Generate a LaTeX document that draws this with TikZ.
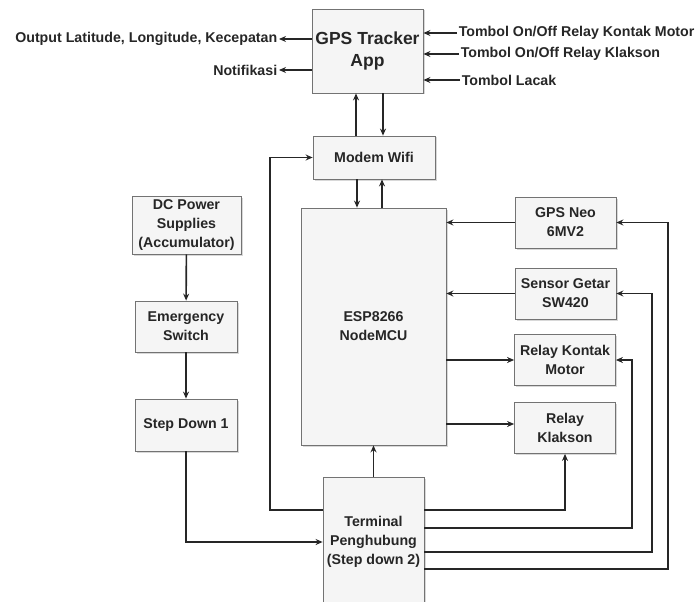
\documentclass[tikz,border=0pt]{standalone}
\usepackage{fontspec}
\setmainfont{Liberation Sans}
\usetikzlibrary{arrows.meta}
\usetikzlibrary{shadows}

\begin{document}
\begin{tikzpicture}[x=1pt, y=-1pt, line width=1.6pt]
    \tikzset{
        every node/.style={font=\fontsize{14.2}{19}\selectfont\bfseries, text=black!85},
        block/.style={draw=black!55, line width=0.8pt, fill=black!4, align=center, inner sep=1pt,
            drop shadow={shadow xshift=1.5pt, shadow yshift=-1.5pt, fill=black!30, opacity=0.5}},
        link/.style={-{Stealth[length=7pt, width=6pt]}, black!85}
    }
    \useasboundingbox (0,0) rectangle (697,602);
    \clip (0,0) rectangle (697,602);

    % draw app and modem
    \node[block, minimum width=111, minimum height=84, font=\fontsize{17.5}{22}\selectfont\bfseries] (app) at (367.5,51) {GPS Tracker\\App};
    \node[block, minimum width=122, minimum height=43] (modem) at (374,157.5) {Modem Wifi};

    % draw texts around the app
    \node[anchor=east, inner sep=1pt] (outlat) at (279,39) {Output Latitude, Longitude, Kecepatan};
    \node[anchor=east, inner sep=1pt] (notif) at (279,70) {Notifikasi};
    \node[anchor=west, inner sep=1pt] (btnkontak) at (457,33) {Tombol On/Off Relay Kontak Motor};
    \node[anchor=west, inner sep=1pt] (btnklakson) at (459,54) {Tombol On/Off Relay Klakson};
    \node[anchor=west, inner sep=1pt] (btnlacak) at (460,80) {Tombol Lacak};

    % draw microcontroller and modules
    \node[block, minimum width=145, minimum height=237] (esp) at (373.5,326.5) {ESP8266\\NodeMCU};
    \node[block, minimum width=101, minimum height=51] (gps) at (565.5,222.5) {GPS Neo\\6MV2};
    \node[block, minimum width=101, minimum height=51] (getar) at (565.5,293.5) {Sensor Getar\\SW420};
    \node[block, minimum width=101, minimum height=51] (kontak) at (565,360) {Relay Kontak\\Motor};
    \node[block, minimum width=101, minimum height=51] (klakson) at (565,428) {Relay\\Klakson};

    % draw power chain
    \node[block, minimum width=109, minimum height=58] (dc) at (186.5,225) {DC Power\\Supplies\\(Accumulator)};
    \node[block, minimum width=102, minimum height=51] (emergency) at (186,326.5) {Emergency\\Switch};
    \node[block, minimum width=102, minimum height=52] (stepone) at (186,425) {Step Down 1};
    \node[block, minimum width=101, minimum height=130] (terminal) at (373.5,542) {Terminal\\Penghubung\\(Step down 2)};

    % draw app arrows
    \draw[link] (app.west |- outlat) -- (outlat.east);
    \draw[link] (app.west |- notif) -- (notif.east);
    \draw[link] (btnkontak.west) -- (app.east |- btnkontak);
    \draw[link] (btnklakson.west) -- (app.east |- btnklakson);
    \draw[link] (btnlacak.west) -- (app.east |- btnlacak);

    % draw wifi links
    \draw[link] (modem.north -| 356,0) -- (app.south -| 356,0);
    \draw[link] (app.south -| 383,0) -- (modem.north -| 383,0);
    \draw[link] (modem.south -| 357,0) -- (esp.north -| 357,0);
    \draw[link] (esp.north -| 382,0) -- (modem.south -| 382,0);

    % draw module links
    \draw[link] (gps.west) -- (esp.east |- gps.west);
    \draw[link] (getar.west) -- (esp.east |- getar.west);
    \draw[link] (esp.east |- kontak.west) -- (kontak.west);
    \draw[link] (esp.east |- 0,424) -- (klakson.west |- 0,424);

    % draw power links
    \draw[link] (dc) -- (emergency);
    \draw[link] (emergency) -- (stepone);
    \draw[link] (stepone.south) |- (terminal.west |- 0,542);
    \draw[link] (terminal.north) -- (esp.south);
    \draw[link] (terminal.west |- 0,510) -| (270,157.5) -- (modem.west);
    \draw[link] (terminal.east |- 0,510) -| (klakson.south);
    \draw[link] (terminal.east |- 0,528) -| (632,360) -- (kontak.east);
    \draw[link] (terminal.east |- 0,552) -| (652,293.5) -- (getar.east);
    \draw[link] (terminal.east |- 0,569) -| (668,222.5) -- (gps.east);
\end{tikzpicture}
\end{document}
